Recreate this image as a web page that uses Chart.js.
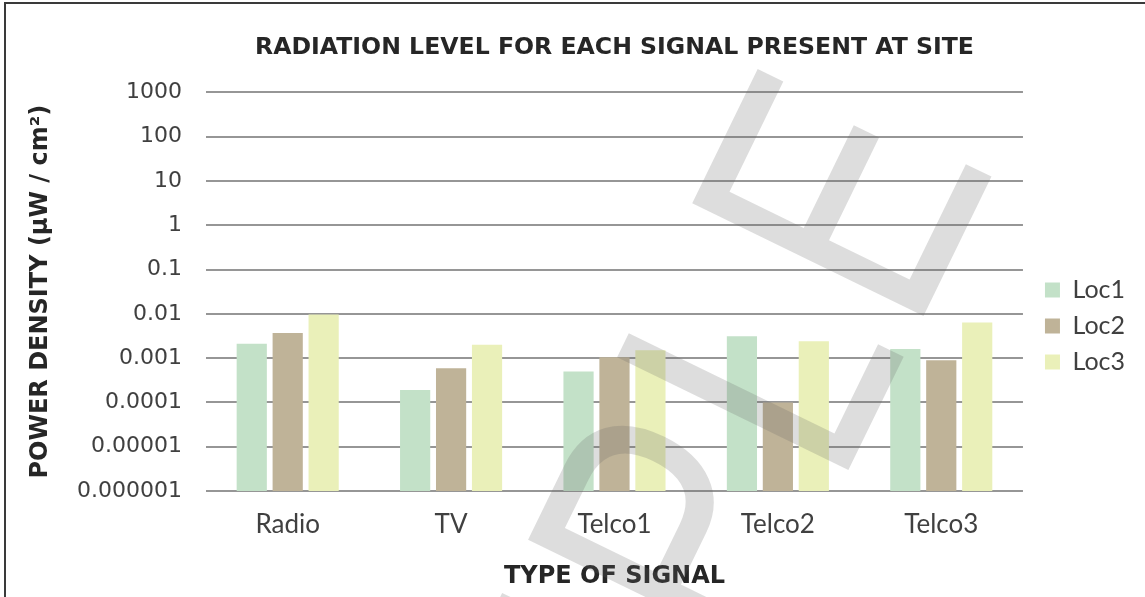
<!DOCTYPE html>
<html>
<head>
<meta charset="utf-8">
<script src="https://cdn.jsdelivr.net/npm/chart.js@4.4.0/dist/chart.umd.min.js"></script>
<style>
  body { margin: 0; background: #fff; }
  #wrap { width: 1145px; height: 597px; }
</style>
</head>
<body>
<div id="wrap"><canvas id="radChart" width="1145" height="597"></canvas></div>
<script>
const categories = ["Radio", "TV", "Telco1", "Telco2", "Telco3"]
const loc1 = [0.0021, 0.00019, 0.0005, 0.0031, 0.0016]
const loc2 = [0.0037, 0.00059, 0.00105, 0.0001, 0.00089]
const loc3 = [0.0096, 0.002, 0.0015, 0.0024, 0.0064]
const tickValues = [0.000001, 0.00001, 0.0001, 0.001, 0.01, 0.1, 1, 10, 100, 1000]
const tickLabels = ["0.000001", "0.00001", "0.0001", "0.001", "0.01", "0.1", "1", "10", "100", "1000"]

const seriesNames = ["Loc1", "Loc2", "Loc3"]
const seriesColors = ["#c3e1c8", "#bfb398", "#eaf0b9"]

const boldFont = (size) => { return { family: "DejaVu Sans", size: size, weight: "bold" } }

// frame round the picture and the grey SAMPLE stamp on top
const decorPlugin = {
    id: "decor",
    afterDraw: (chart) => {
        const ctx = chart.ctx
        ctx.save()
        ctx.strokeStyle = "#3a3a3a"
        ctx.lineWidth = 2
        ctx.beginPath()
        ctx.moveTo(5, 597)
        ctx.lineTo(5, 3)
        ctx.lineTo(1145, 3)
        ctx.stroke()
        ctx.restore()

        const word = "SAMPLE"
        const spacing = 16
        ctx.save()
        ctx.translate(923, 317)
        ctx.rotate(-64 * Math.PI / 180)
        ctx.scale(0.765, 1)
        ctx.font = "374px 'Liberation Sans'"
        ctx.fillStyle = "rgba(100,100,100,0.22)"
        ctx.textBaseline = "alphabetic"
        let before = 0
        for (let i = 0; i < word.length - 1; i++) {
            before += ctx.measureText(word[i]).width + spacing
        }
        let x = ctx.measureText("E").actualBoundingBoxLeft - before
        for (let i = 0; i < word.length; i++) {
            ctx.fillText(word[i], x, 0)
            x += ctx.measureText(word[i]).width + spacing
        }
        ctx.restore()
    }
}

const ctx = document.getElementById("radChart").getContext("2d")

const chartData = {
    labels: categories,
    datasets: [loc1, loc2, loc3].map((values, i) => {
        return {
            label: seriesNames[i],
            data: values,
            backgroundColor: seriesColors[i],
            borderWidth: 0,
            categoryPercentage: 0.66,
            barPercentage: 0.84
        }
    })
}

const config = {
    type: "bar",
    data: chartData,
    options: {
        responsive: false,
        animation: false,
        layout: { padding: { left: 20, right: 10, top: 0, bottom: 4 } },
        plugins: {
            title: {
                display: true,
                text: "RADIATION LEVEL FOR EACH SIGNAL PRESENT AT SITE",
                fullSize: false,
                color: "#262626",
                font: boldFont(23.6),
                padding: { top: 34, bottom: 30 }
            },
            legend: {
                position: "right",
                title: { display: true, text: "", font: { size: 40 }, padding: { top: 11, bottom: 0 } },
                labels: {
                    color: "#404040",
                    font: { family: "Lato", size: 25 },
                    boxWidth: 15,
                    boxHeight: 15,
                    padding: 11
                }
            },
            tooltip: { enabled: false }
        },
        scales: {
            x: {
                afterFit: (scale) => { scale.height = 102 },
                grid: { display: false, drawTicks: false },
                border: { display: false },
                ticks: {
                    color: "#404040",
                    font: { family: "Lato", size: 26 },
                    padding: 18
                },
                title: {
                    display: true,
                    text: "TYPE OF SIGNAL",
                    color: "#262626",
                    font: boldFont(24),
                    padding: { top: 0, bottom: 2 }
                }
            },
            y: {
                type: "logarithmic",
                min: 0.000001,
                max: 1000,
                afterFit: (scale) => { scale.width = 186 },
                afterBuildTicks: (scale) => {
                    scale.ticks = tickValues.map((v) => { return { value: v } })
                },
                grid: { color: "#969696", lineWidth: 2, drawTicks: false },
                border: { display: false },
                ticks: {
                    color: "#404040",
                    font: { family: "DejaVu Sans", size: 22 },
                    padding: 24,
                    callback: (value, index) => { return tickLabels[index] }
                },
                title: {
                    display: true,
                    text: "POWER DENSITY (μW / cm²)",
                    color: "#262626",
                    font: boldFont(24),
                    padding: { top: 6, bottom: 10 }
                }
            },
            gap: {
                position: "right",
                display: true,
                afterFit: (scale) => { scale.width = 11 },
                grid: { display: false },
                border: { display: false },
                ticks: { display: false }
            }
        }
    },
    plugins: [decorPlugin]
}

const radChart = new Chart(ctx, config)
</script>
</body>
</html>
